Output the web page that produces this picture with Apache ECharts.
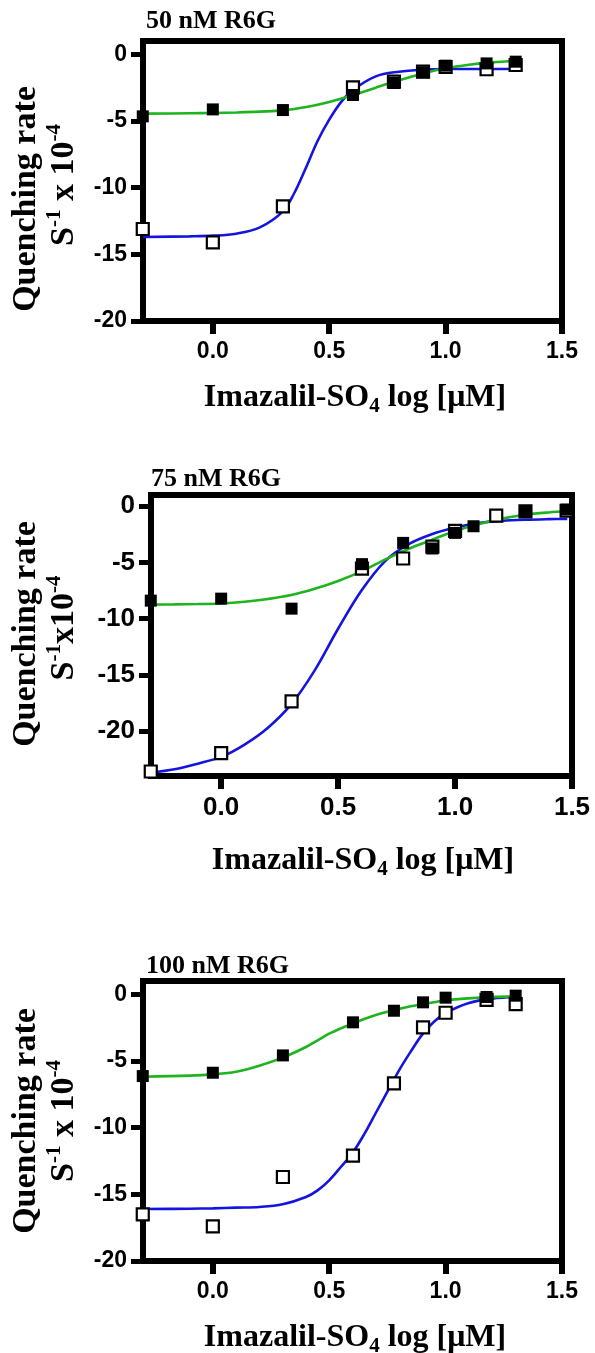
<!DOCTYPE html>
<html>
<head>
<meta charset="utf-8">
<script src="https://cdn.jsdelivr.net/npm/echarts@6/dist/echarts.min.js"></script>
<style>
  html, body { margin: 0; padding: 0; background: #fff; }
  #chart { width: 595px; height: 1353px; }
</style>
</head>
<body>
<div id="chart"></div>
<script>
// doses, log[uM]
const logDose = [-0.301, 0, 0.301, 0.602, 0.778, 0.903, 1.0, 1.176, 1.301];
const logDose75 = [-0.301, 0, 0.301, 0.602, 0.778, 0.903, 1.0, 1.079, 1.176, 1.301, 1.477];

// measured points (filled = black squares, open = hollow squares)
const filled50 = [-4.65, -4.13, -4.18, -3.05, -2.15, -1.35, -0.85, -0.68, -0.55];
const open50 = [-13.1, -14.1, -11.4, -2.48, -2.05, -1.3, -0.95, -1.12, -0.8];
const filled75 = [-8.4, -8.22, -9.11, -5.15, -3.26, -3.76, -2.37, -1.78, null, -0.5, -0.3];
const open75 = [-23.6, -21.96, -17.36, -5.55, -4.65, -3.6, -2.2, null, -0.83, -0.45, -0.4];
const filled100 = [-6.13, -5.88, -4.58, -2.1, -1.23, -0.6, -0.25, -0.2, -0.1];
const open100 = [-16.5, -17.4, -13.7, -12.1, -6.68, -2.48, -1.38, -0.42, -0.73];

// fitted curves
const fitX50 = [-0.3, -0.1, 0, 0.1, 0.2, 0.3, 0.35, 0.4, 0.45, 0.5, 0.55, 0.6, 0.7, 0.8, 0.9, 1.0, 1.1, 1.2, 1.3];
const green50 = [-4.45, -4.42, -4.4, -4.36, -4.3, -4.2, -4.1, -3.95, -3.78, -3.57, -3.33, -3.07, -2.5, -1.95, -1.45, -1.05, -0.78, -0.6, -0.5];
const blue50 = [-13.7, -13.65, -13.6, -13.45, -13.0, -11.8, -10.4, -8.5, -6.5, -4.9, -3.6, -2.7, -1.65, -1.3, -1.15, -1.1, -1.1, -1.1, -1.1];

const fitX75 = [-0.3, -0.2, -0.1, 0, 0.1, 0.2, 0.3, 0.4, 0.5, 0.6, 0.7, 0.8, 0.9, 1.0, 1.1, 1.2, 1.3, 1.4, 1.48];
const green75 = [-8.75, -8.73, -8.7, -8.65, -8.5, -8.25, -7.9, -7.35, -6.65, -5.8, -4.75, -3.8, -3.0, -2.2, -1.6, -1.1, -0.75, -0.55, -0.45];
const blue75 = [-23.7, -23.4, -22.9, -22.3, -21.2, -19.7, -17.6, -14.6, -10.9, -7.5, -4.9, -3.4, -2.5, -1.9, -1.5, -1.3, -1.2, -1.15, -1.13];

const fitX100 = [-0.3, -0.1, 0, 0.1, 0.2, 0.3, 0.4, 0.45, 0.5, 0.55, 0.6, 0.65, 0.7, 0.75, 0.8, 0.85, 0.9, 0.95, 1.0, 1.1, 1.2, 1.3];
const green100 = [-6.18, -6.1, -6.0, -5.8, -5.35, -4.75, -3.95, -3.45, -2.95, -2.55, -2.2, -1.85, -1.55, -1.3, -1.1, -0.9, -0.75, -0.6, -0.45, -0.3, -0.2, -0.15];
const blue100 = [-16.1, -16.08, -16.05, -16.0, -15.95, -15.75, -15.2, -14.7, -13.95, -12.95, -11.9, -10.5, -8.9, -7.3, -5.7, -4.3, -3.0, -2.05, -1.4, -0.65, -0.32, -0.2];

const xTicks = [0, 0.5, 1, 1.5];
const yTicks = [0, -5, -10, -15, -20];
const panelTitles = ['50 nM R6G', '75 nM R6G', '100 nM R6G'];

const SERIF = '"Liberation Serif", "Times New Roman", serif';
const SANS = '"Liberation Sans", Arial, sans-serif';
const GREEN = '#1eb41e';
const BLUE = '#1414e0';

function pairs(xs, ys) {
  const out = [];
  for (let i = 0; i < xs.length; i++) {
    if (ys[i] !== null) out.push([xs[i], ys[i]]);
  }
  return out;
}

// one entry per panel
const panels = [
  { grid: { left: 143, top: 41, width: 419, height: 280 }, yMin: -20, tickFont: 23,
    dose: logDose, filled: filled50, open: open50, fitX: fitX50, green: green50, blue: blue50,
    titlePos: [146, 21], yTitle: [26, 199], yTitle2: [64, 185], xTitle: [355, 398], unit: ' x 10' },
  { grid: { left: 151, top: 495, width: 421, height: 281 }, yMin: -24, tickFont: 26,
    dose: logDose75, filled: filled75, open: open75, fitX: fitX75, green: green75, blue: blue75,
    titlePos: [151, 479], yTitle: [26, 634], yTitle2: [64, 628], xTitle: [363, 861], unit: 'x10' },
  { grid: { left: 143, top: 981, width: 419, height: 280 }, yMin: -20, tickFont: 23,
    dose: logDose, filled: filled100, open: open100, fitX: fitX100, green: green100, blue: blue100,
    titlePos: [146, 966], yTitle: [26, 1121], yTitle2: [64, 1121], xTitle: [355, 1338], unit: ' x 10' }
];

const grids = [], xAxes = [], yAxes = [], series = [], graphics = [];

panels.forEach(function (p, i) {
  grids.push(Object.assign({
    show: true, borderColor: '#000', borderWidth: 6, backgroundColor: 'transparent',
    containLabel: false, outerBoundsMode: 'none'
  }, p.grid));

  const labelStyle = {
    fontFamily: SANS, fontWeight: 'bold', fontSize: p.tickFont, color: '#000'
  };
  xAxes.push({
    type: 'value', gridIndex: i, min: -0.3, max: 1.5,
    axisLine: { show: true, onZero: false, lineStyle: { color: '#000', width: 6 } },
    axisTick: { show: true, inside: false, length: 13, customValues: xTicks, lineStyle: { color: '#000', width: 6 } },
    axisLabel: Object.assign({ margin: 19, customValues: xTicks, formatter: function (v) { return v.toFixed(1); } }, labelStyle),
    splitLine: { show: false }
  });
  yAxes.push({
    type: 'value', gridIndex: i, min: p.yMin, max: 1,
    axisLine: { show: true, onZero: false, lineStyle: { color: '#000', width: 6 } },
    axisTick: { show: true, inside: false, length: 12, customValues: yTicks, lineStyle: { color: '#000', width: 5 } },
    axisLabel: Object.assign({ margin: 16, customValues: yTicks, formatter: function (v) { return String(v); } }, labelStyle),
    splitLine: { show: false }
  });

  series.push({
    type: 'line', xAxisIndex: i, yAxisIndex: i, data: pairs(p.fitX, p.blue),
    smooth: 0.35, symbol: 'none', clip: false, z: 2,
    lineStyle: { color: BLUE, width: 2.6 }
  });
  series.push({
    type: 'line', xAxisIndex: i, yAxisIndex: i, data: pairs(p.fitX, p.green),
    smooth: 0.35, symbol: 'none', clip: false, z: 3,
    lineStyle: { color: GREEN, width: 2.6 }
  });
  series.push({
    type: 'scatter', xAxisIndex: i, yAxisIndex: i, data: pairs(p.dose, p.open),
    symbol: 'rect', symbolSize: 12, clip: false, z: 4,
    itemStyle: { color: '#fff', borderColor: '#000', borderWidth: 2.2, opacity: 1 }
  });
  series.push({
    type: 'scatter', xAxisIndex: i, yAxisIndex: i, data: pairs(p.dose, p.filled),
    symbol: 'rect', symbolSize: 12, clip: false, z: 5,
    itemStyle: { color: '#000', opacity: 1 }
  });

  // panel title
  graphics.push({
    type: 'text', x: p.titlePos[0], y: p.titlePos[1],
    style: {
      text: panelTitles[i], fill: '#000',
      font: 'bold 26px ' + SERIF,
      align: 'left', verticalAlign: 'middle', textAlign: 'left', textVerticalAlign: 'middle'
    }
  });
  // y title, two lines, rotated
  graphics.push({
    type: 'text', x: p.yTitle[0], y: p.yTitle[1], rotation: Math.PI / 2,
    style: {
      text: 'Quenching rate', fill: '#000',
      font: 'bold 34px ' + SERIF,
      align: 'center', verticalAlign: 'middle', textAlign: 'center', textVerticalAlign: 'middle'
    }
  });
  graphics.push({
    type: 'text', x: p.yTitle2[0], y: p.yTitle2[1], rotation: Math.PI / 2,
    style: {
      text: '{b|S}{sup|-1}{b|' + p.unit + '}{sup|-4}', fill: '#000',
      align: 'center', verticalAlign: 'middle', textAlign: 'center', textVerticalAlign: 'middle',
      rich: {
        b: { fontFamily: SERIF, fontWeight: 'bold', fontSize: 34, lineHeight: 40, fill: '#000' },
        sup: { fontFamily: SERIF, fontWeight: 'bold', fontSize: 21, lineHeight: 20, verticalAlign: 'top', fill: '#000' }
      }
    }
  });
  // x title with subscript
  graphics.push({
    type: 'text', x: p.xTitle[0], y: p.xTitle[1],
    style: {
      text: '{b|Imazalil-SO}{sub|4}{b| log [\u03bcM]}', fill: '#000',
      align: 'center', verticalAlign: 'middle', textAlign: 'center', textVerticalAlign: 'middle',
      rich: {
        b: { fontFamily: SERIF, fontWeight: 'bold', fontSize: 32, lineHeight: 38, fill: '#000' },
        sub: { fontFamily: SERIF, fontWeight: 'bold', fontSize: 21, lineHeight: 21, verticalAlign: 'bottom', fill: '#000' }
      }
    }
  });
});

const chart = echarts.init(document.getElementById('chart'), null, { renderer: 'canvas' });
chart.setOption({
  animation: false,
  backgroundColor: '#fff',
  grid: grids,
  xAxis: xAxes,
  yAxis: yAxes,
  series: series,
  graphic: graphics
});
</script>
</body>
</html>
